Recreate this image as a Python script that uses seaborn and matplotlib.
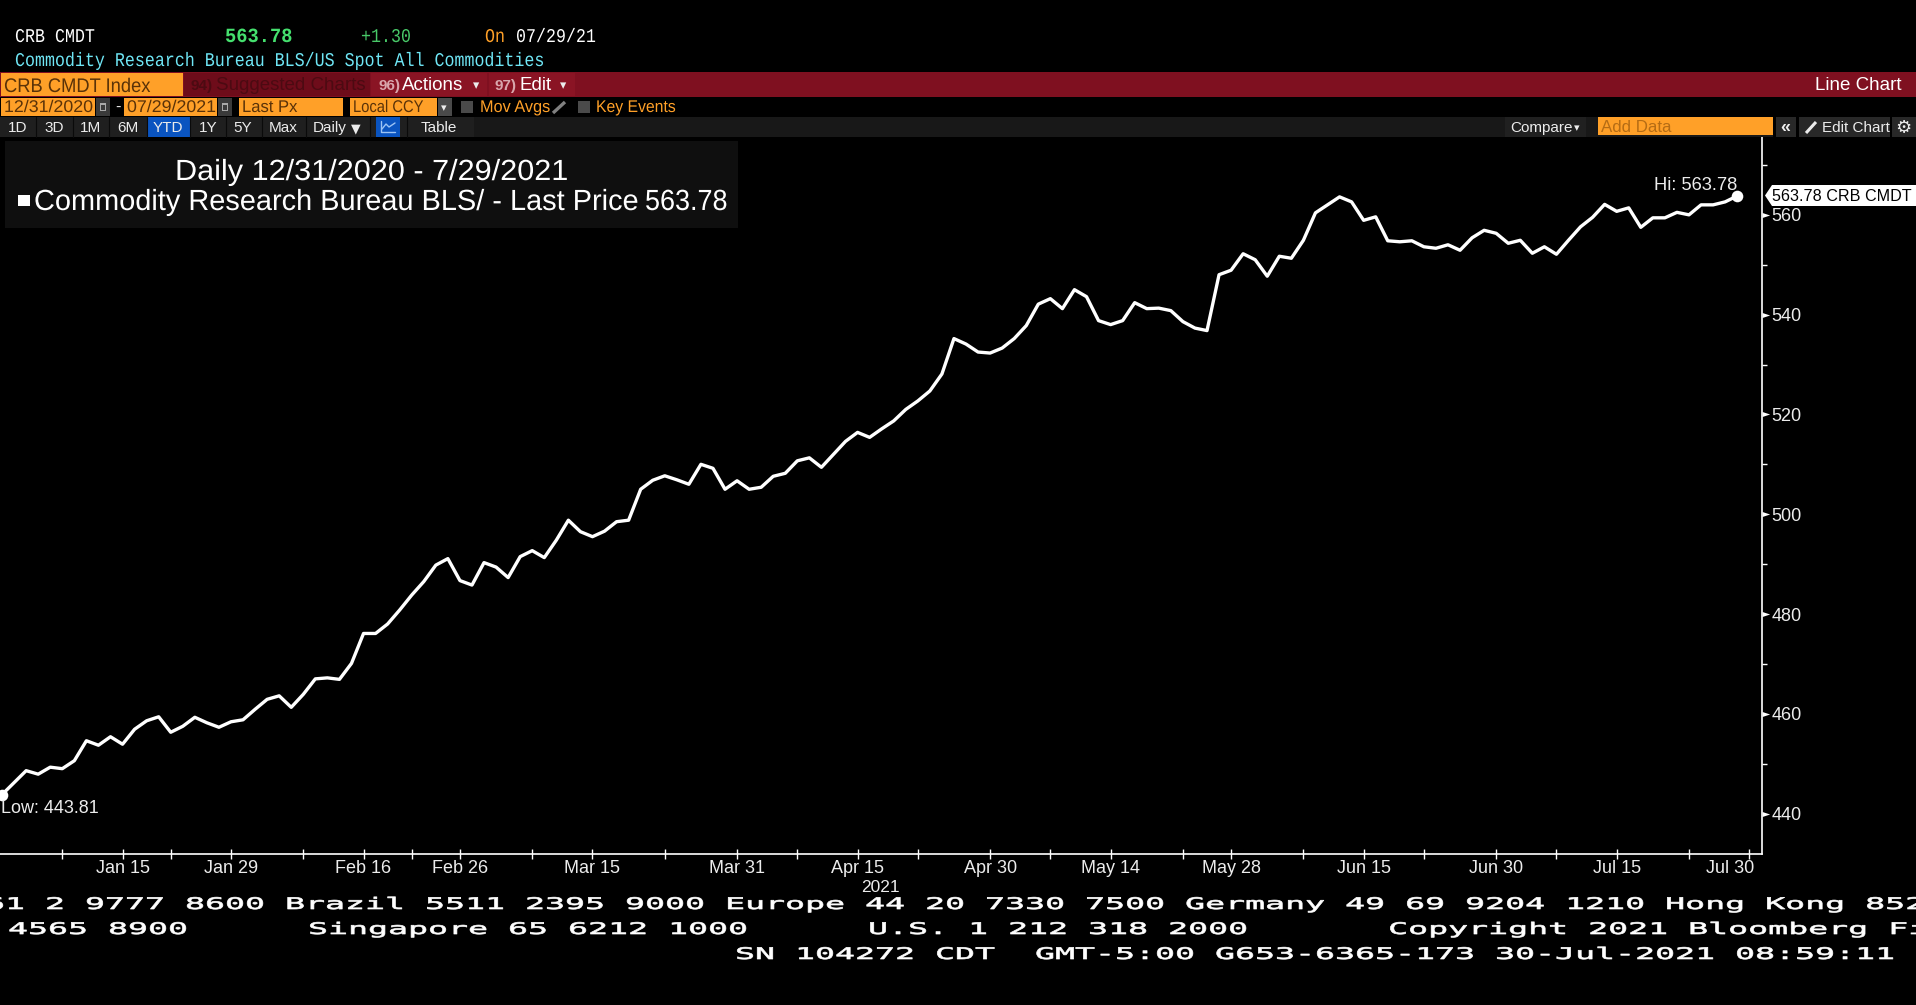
import matplotlib
matplotlib.use("Agg")
import matplotlib.pyplot as plt
import matplotlib.patheffects as pe
from matplotlib.patches import Rectangle, Polygon
from matplotlib.transforms import Affine2D
from matplotlib.ticker import FixedLocator, FixedFormatter
import seaborn as sns

# CRB index, one value per trading day
trading_day = list(range(145))
last_price = [
    443.81, 446.2, 448.6, 447.9, 449.3, 449.0, 450.6, 454.6, 453.7, 455.4,
    453.9, 456.9, 458.6, 459.4, 456.3, 457.5, 459.3, 458.2, 457.3, 458.4,
    458.8, 460.9, 462.9, 463.6, 461.3, 463.9, 467.0, 467.2, 466.9, 470.1,
    476.1, 476.1, 478.0, 480.8, 483.8, 486.5, 489.8, 491.1, 486.7, 485.8,
    490.3, 489.4, 487.3, 491.5, 492.7, 491.3, 494.8, 498.8, 496.5, 495.5,
    496.6, 498.5, 498.8, 505.0, 506.8, 507.7, 506.9, 506.0, 510.0, 509.2,
    505.0, 506.7, 505.0, 505.4, 507.6, 508.2, 510.7, 511.3, 509.4, 512.0,
    514.6, 516.4, 515.4, 517.1, 518.7, 521.0, 522.7, 524.7, 528.1, 535.2,
    534.1, 532.5, 532.3, 533.3, 535.2, 537.8, 542.1, 543.2, 541.2, 545.0,
    543.6, 538.8, 538.0, 538.8, 542.4, 541.2, 541.3, 540.8, 538.6, 537.3,
    536.8, 548.0, 548.9, 552.2, 551.0, 547.7, 551.7, 551.3, 554.9, 560.4,
    562.0, 563.6, 562.6, 558.9, 559.6, 554.8, 554.6, 554.8, 553.6, 553.3,
    554.0, 552.9, 555.4, 556.9, 556.3, 554.3, 554.9, 552.3, 553.6, 552.1,
    554.9, 557.6, 559.5, 562.1, 560.7, 561.4, 557.5, 559.4, 559.4, 560.5,
    560.0, 562.0, 562.0, 562.6, 563.78,
]
date_ticks = [10, 19, 30, 38, 49, 61, 71, 82, 92, 102, 113, 124, 134, 145]
date_labels = ["Jan 15", "Jan 29", "Feb 16", "Feb 26", "Mar 15", "Mar 31", "Apr 15",
               "Apr 30", "May 14", "May 28", "Jun 15", "Jun 30", "Jul 15", "Jul 30"]
minor_date_ticks = [5, 14, 25, 34, 44, 55, 66, 76, 87, 98, 108, 118, 129, 140]
price_ticks = [440, 460, 480, 500, 520, 540, 560]
minor_price_ticks = [450, 470, 490, 510, 530, 550, 570]

W, H = 1916, 1005
ORANGE = "#ffa028"
RED = "#7f1020"
BOX_TEXT = "#5a3208"
LIGHT = "#ececec"


class Stretch(pe.AbstractPathEffect):
    # widen or narrow glyphs around the text origin
    def __init__(self, sx, stroke=0):
        self.sx = sx
        self.stroke = stroke

    def draw_path(self, renderer, gc, tpath, affine, rgbFace=None):
        gc0 = renderer.new_gc()
        gc0.copy_properties(gc)
        if self.stroke:
            gc0.set_linewidth(self.stroke)
            gc0.set_foreground(rgbFace)
        renderer.draw_path(gc0, tpath, Affine2D().scale(self.sx, 1) + affine, rgbFace)
        gc0.restore()


sns.set_theme(style="dark", rc={"figure.facecolor": "black", "axes.facecolor": "black",
                                "savefig.facecolor": "black"})
plt.rcParams["font.family"] = ["Liberation Sans", "DejaVu Sans"]

fig = plt.figure(figsize=(W / 100, H / 100), dpi=100)

# Main chart, pixel box of the plot area in the screenshot
ax = fig.add_axes([0, 1 - 854 / H, 1762 / W, (854 - 137) / H])
sns.lineplot(x=trading_day, y=last_price, color="white", linewidth=2.4, errorbar=None, ax=ax)
sns.scatterplot(x=[trading_day[0], trading_day[-1]], y=[last_price[0], last_price[-1]],
                color="white", s=70, linewidth=0, clip_on=False, zorder=5, ax=ax)
ax.set_xlim(-0.17, 146.06)
ax.set_ylim(431.9, 575.6)
ax.set_xlabel("")
ax.set_ylabel("")
ax.grid(False)
ax.yaxis.tick_right()
ax.xaxis.set_major_locator(FixedLocator(date_ticks))
ax.xaxis.set_major_formatter(FixedFormatter(date_labels))
ax.xaxis.set_minor_locator(FixedLocator(minor_date_ticks))
ax.yaxis.set_major_locator(FixedLocator(price_ticks))
ax.yaxis.set_minor_locator(FixedLocator(minor_price_ticks))
ax.tick_params(axis="x", which="major", length=7, width=1, color="white", direction="inout",
               labelcolor=LIGHT, labelsize=13, pad=1, bottom=True)
ax.tick_params(axis="x", which="minor", length=7, width=1, color="white", direction="inout", bottom=True)
ax.tick_params(axis="y", which="major", length=4, width=1, color="white", direction="out",
               labelcolor=LIGHT, labelsize=13, pad=3, right=True, left=False)
ax.tick_params(axis="y", which="minor", length=3.5, width=1, color="white", direction="out",
               right=True, left=False)
# price ticks are little arrows pointing at the label
for tick in ax.yaxis.get_major_ticks():
    tick.tick2line.set_marker(((0, -0.33), (1, 0), (0, 0.33)))
    tick.tick2line.set_markersize(11)
    tick.tick2line.set_markerfacecolor("white")
    tick.tick2line.set_markeredgewidth(0)
# the last date label sits against the end of the axis
last_label = ax.get_xticklabels()[-1]
last_label.set_ha("right")
last_label.set_transform(last_label.get_transform() + Affine2D().translate(5, 0))
for side in ["left", "top"]:
    ax.spines[side].set_visible(False)
for side in ["right", "bottom"]:
    ax.spines[side].set_color("white")
    ax.spines[side].set_linewidth(1.2)

# Terminal chrome on a full figure overlay in pixel coordinates
ui = fig.add_axes([0, 0, 1, 1], facecolor="none")
ui.set_xlim(0, W)
ui.set_ylim(H, 0)
ui.axis("off")


def box(x0, y0, x1, y1, color):
    ui.add_patch(Rectangle((x0, y0), x1 - x0, y1 - y0, facecolor=color, edgecolor="none"))


def label(x, y, s, color=LIGHT, size=12, sx=1.0, family=None, weight="normal", ha="left", stroke=0):
    t = ui.text(x, y, s, color=color, fontsize=size, va="baseline", ha=ha, weight=weight,
                clip_on=True)
    if family:
        t.set_family(family)
    if sx != 1.0 or stroke:
        t.set_path_effects([Stretch(sx, stroke)])
    return t


# ticker header
MONO = "Liberation Mono"
label(15, 42, "CRB CMDT", "white", 14, 0.856, MONO)
label(225, 42, "563.78", "#45e06e", 14.5, 0.93, MONO, "bold")
label(361, 42, "+1.30", "#48c868", 14, 0.856, MONO)
label(485, 42, "On", ORANGE, 14, 0.856, MONO)
label(516, 42, "07/29/21", "white", 14, 0.856, MONO)
label(15, 66, "Commodity Research Bureau BLS/US Spot All Commodities", "#6fe6f5", 14, 0.856, MONO)

# red command bar
box(0, 72, W, 97, RED)
box(1, 73, 183, 96, ORANGE)
box(184, 73, 370, 96, "#6e0c1a")
box(371, 73, 487, 96, "#8a1424")
box(489, 73, 575, 96, "#8a1424")
label(4, 92, "CRB CMDT Index", BOX_TEXT, 14.2, 0.93)
label(191, 90, "94)", "#4c0a12", 11, weight="bold")
label(216, 90, "Suggested Charts", "#4c0a12", 13.5)
label(379, 90, "96)", "#d9a6ac", 11, weight="bold")
label(402, 90, "Actions", "white", 13.5)
label(473, 89, "▾", LIGHT, 9, family="DejaVu Sans")
label(495, 90, "97)", "#d9a6ac", 11, weight="bold")
label(520, 90, "Edit", "white", 13.5)
label(560, 89, "▾", LIGHT, 9, family="DejaVu Sans")
label(1815, 90, "Line Chart", "white", 13.5)

# date and field row
for x0, x1, s, sx in [(1, 95, "12/31/2020", 1.05), (124, 217, "07/29/2021", 1.05),
                      (239, 343, "Last Px", 0.98), (350, 437, "Local CCY", 0.87)]:
    box(x0, 98, x1, 116, ORANGE)
    label(x0 + 3, 112, s, BOX_TEXT, 12.2, sx)
for x0, x1 in [(96, 110), (218, 232)]:
    box(x0, 98, x1, 116, "#3a3a3a")
    box(x0 + 4, 103, x1 - 4, 111, "#a8a8a8")
    box(x0 + 5, 105, x1 - 5, 110, "#3a3a3a")
box(438, 98, 452, 116, "#4a4a4a")
label(441, 111, "▾", LIGHT, 8, family="DejaVu Sans")
label(115, 112, "-", LIGHT, 12)
box(461, 101, 473, 113, "#4a4a4a")
box(578, 101, 590, 113, "#4a4a4a")
label(480, 112, "Mov Avgs", ORANGE, 12.2, 0.96)
ui.plot([553, 565], [113, 102], color="#808080", linewidth=2.4, solid_capstyle="butt")
label(596, 112, "Key Events", ORANGE, 12.2, 0.93)

# period row
box(0, 117, W, 137, "#181818")
box(0, 117, 474, 137, "#1f1f1f")
box(147, 117, 190, 137, "#0a54c0")
box(376, 117, 400, 137, "#0a54c0")
ui.plot([381, 381, 395], [121, 132, 132], color="#9cc4f5", linewidth=1)
ui.plot([382, 386, 389, 395], [129, 124, 127, 123], color="#9cc4f5", linewidth=1)
for x in [36, 73, 109, 147, 190, 226, 262, 306, 370, 407]:
    ui.plot([x, x], [117, 137], color="#0a0a0a", linewidth=0.8)
for s, xc in [("1D", 18), ("3D", 54), ("1M", 91), ("6M", 128), ("YTD", 168), ("1Y", 208),
              ("5Y", 243), ("Max", 283), ("Table", 439)]:
    label(xc, 132, s, LIGHT, 11, ha="center")
label(313, 132, "Daily", LIGHT, 11)
label(351, 132, "▼", LIGHT, 9, family="DejaVu Sans")
box(1505, 117, 1586, 137, "#202020")
box(1773, 117, 1776, 137, "black")
box(1776, 117, 1796, 137, "#282828")
box(1796, 117, 1799, 137, "black")
box(1799, 117, 1890, 137, "#282828")
box(1890, 117, 1892, 137, "black")
box(1892, 117, W, 137, "#282828")
box(1598, 117, 1773, 135, ORANGE)
label(1601, 132, "Add Data", "#b56c14", 12.2)
label(1510, 132, "Compare", LIGHT, 11)
label(1574, 131, "▾", LIGHT, 8, family="DejaVu Sans")
label(1780, 132, "«", LIGHT, 13, weight="bold")
ui.plot([1806, 1816], [133, 122], color=LIGHT, linewidth=2.2, solid_capstyle="butt")
label(1822, 132, "Edit Chart", LIGHT, 11)
label(1895, 133, "⚙", LIGHT, 13, family="DejaVu Sans")

# legend panel
box(5, 141, 738, 228, "#0f0f0f")
label(175, 180, "Daily 12/31/2020 - 7/29/2021", "white", 21, 1.05)
box(18, 195, 30, 206, "white")
label(34, 210, "Commodity Research Bureau BLS/ - Last Price", "white", 21, 0.992)
label(645, 210, f"{last_price[-1]:.2f}", "white", 21, 0.925)

# high and low annotations
label(1654, 190, f"Hi: {max(last_price):.2f}", LIGHT, 13.2)
label(1, 813, f"Low: {min(last_price):.2f}", LIGHT, 13)
ui.add_patch(Polygon([(1765, 195.5), (1772, 185), (W, 185), (W, 206), (1772, 206)],
                     facecolor="white", edgecolor="none"))
label(1772, 201, f"{last_price[-1]:.2f} CRB CMDT", "black", 11.6)
label(880, 892, "2021", LIGHT, 12.5, ha="center")

# disclaimer lines at the bottom, cut by the image edge
FOOT = "DejaVu Sans Mono"
foot_stretch = 2.08
label(-15, 909, "61 2 9777 8600 Brazil 5511 2395 9000 Europe 44 20 7330 7500 Germany 49 69 9204 1210 Hong Kong 852",
      "white", 11.5, foot_stretch, FOOT, stroke=0.5)
label(8, 934, "4565 8900      Singapore 65 6212 1000      U.S. 1 212 318 2000       Copyright 2021 Bloomberg Fi",
      "white", 11.5, foot_stretch, FOOT, stroke=0.5)
label(735, 959, "SN 104272 CDT  GMT-5:00 G653-6365-173 30-Jul-2021 08:59:11",
      "white", 11.5, foot_stretch, FOOT, stroke=0.5)

fig.savefig("out.png", dpi=100)
